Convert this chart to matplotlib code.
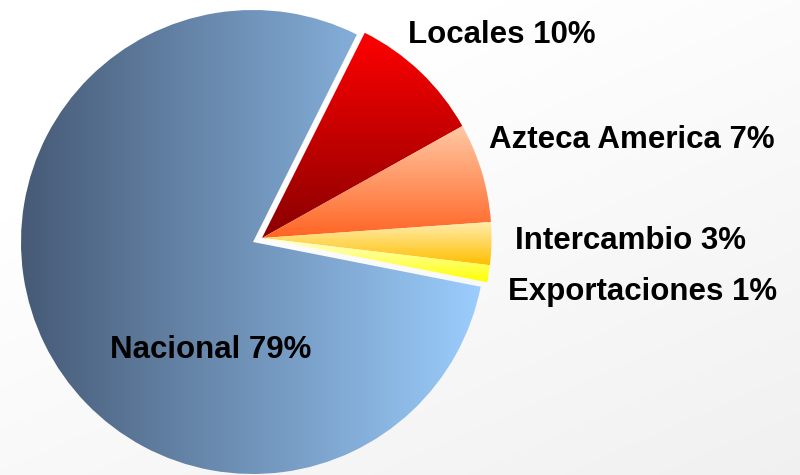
import numpy as np
import matplotlib
matplotlib.use("Agg")
import matplotlib.pyplot as plt
from matplotlib.colors import to_rgb

# ---- data ----
categories = ["Locales", "Azteca America", "Intercambio", "Exportaciones", "Nacional"]
shares = [9.5, 7.0, 3.0, 1.2, 79.3]
pct_labels = ["10%", "7%", "3%", "1%", "79%"]

# gradient colours (start, end) and direction per slice
grad_colors = [
    ("#ff0000", "#8a0000"),   # Locales: top -> bottom
    ("#ffc8a4", "#ff6424"),   # Azteca
    ("#ffeeb0", "#ffbe00"),   # Intercambio
    ("#ffffdc", "#ffff00"),   # Exportaciones
    ("#465a76", "#9bcdfd"),   # Nacional: left -> right
]
grad_dirs = ["v", "v", "v", "v", "h"]

W, H = 800, 475
fig = plt.figure(figsize=(8, 4.75), dpi=100)
ax = fig.add_axes([0, 0, 1, 1])

# background: faint grey vignette toward the right/bottom
yy, xx = np.mgrid[0:H, 0:W]
t = np.clip(0.55 * xx / W + 0.75 * yy / H - 0.35, 0, 1)
bg = 1.0 - 0.06 * t
ax.imshow(np.dstack([bg, bg, bg]), extent=(0, W, 0, H), origin="upper",
          zorder=0, interpolation="bilinear", aspect="auto")

center_main = (253, H - 242)
center_small = (262, H - 238)
R = 232

wedges, _ = ax.pie(shares, startangle=63.4, counterclock=False,
                   radius=R, center=center_main,
                   wedgeprops=dict(linewidth=0), frame=False)

for i, w in enumerate(wedges):
    if categories[i] != "Nacional":
        w.set_center(center_small)
        w.set_radius(229.5)
    w.set_facecolor("none")
    w.set_zorder(1)
    ext = w.get_path().get_extents()
    x0, y0, x1, y1 = ext.x0, ext.y0, ext.x1, ext.y1
    c0 = np.array(to_rgb(grad_colors[i][0]))
    c1 = np.array(to_rgb(grad_colors[i][1]))
    n = 256
    s = np.linspace(0, 1, n)
    if grad_dirs[i] == "h":
        img = (c0[None, :] * (1 - s[:, None]) + c1[None, :] * s[:, None])[None, :, :]
        origin = "lower"
    else:
        img = (c0[None, :] * (1 - s[:, None]) + c1[None, :] * s[:, None])[:, None, :]
        origin = "upper"
    im = ax.imshow(img, extent=(x0, x1, y0, y1), origin=origin,
                   interpolation="bilinear", aspect="auto", zorder=2)
    im.set_clip_path(w)

# labels
label_pos = {
    "Locales": (408, 43),
    "Azteca America": (489, 148),
    "Intercambio": (515, 249),
    "Exportaciones": (508, 300),
    "Nacional": (110, 358),
}
for cat, pct in zip(categories, pct_labels):
    x, y = label_pos[cat]
    ax.text(x, H - y, f"{cat} {pct}", fontsize=22.5, fontweight="bold",
            family=["Liberation Sans", "DejaVu Sans"], color="black",
            ha="left", va="baseline", zorder=5)

ax.set_xlim(0, W)
ax.set_ylim(0, H)
ax.set_aspect("auto")
ax.axis("off")
fig.savefig("out.png", dpi=100)
